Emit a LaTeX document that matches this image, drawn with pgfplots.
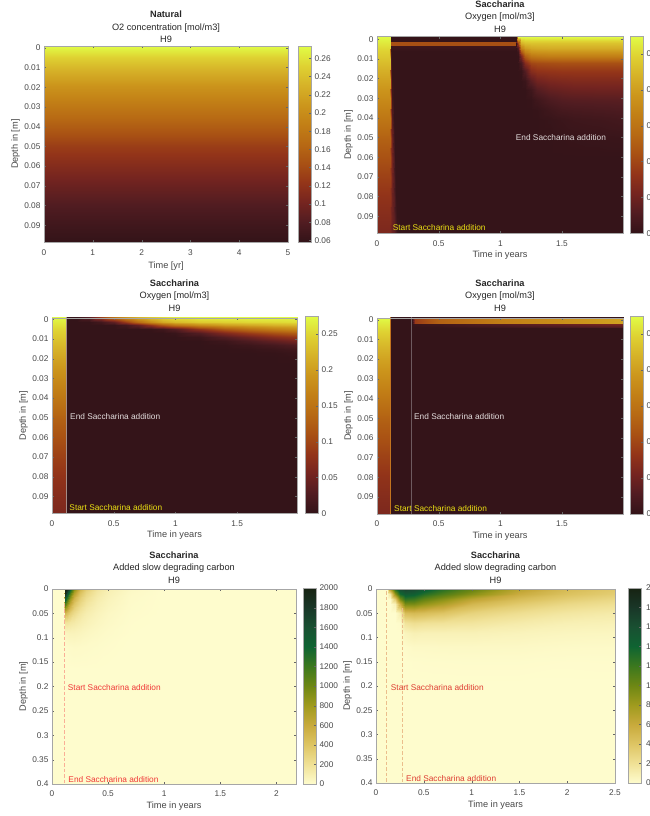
\documentclass[border=0pt]{standalone}
\usepackage{pgfplots}
\pgfplotsset{compat=1.18}
\usepackage{pgfplotstable}
\usepackage{fontspec}
\setmainfont{Liberation Sans}
\definecolor{txt}{gray}{0.28}
\definecolor{ttl}{gray}{0.15}
\definecolor{boxc}{gray}{0.65}
\definecolor{tickc}{gray}{0.4}
\newcommand{\ticksize}{\fontsize{8.3}{10}\selectfont}
\newcommand{\labsize}{\fontsize{9.2}{11}\selectfont}
\pgfkeys{/pgf/number format/assume math mode=true}
\tikzset{note/.style={font=\ticksize,anchor=west,inner sep=0pt}}
\pgfplotsset{
 colormap={solar}{rgb255=(50,19,24) rgb255=(80,28,33) rgb255=(116,36,32) rgb255=(147,52,25) rgb255=(168,80,20) rgb255=(183,105,20) rgb255=(194,127,22) rgb255=(204,150,28) rgb255=(214,178,40) rgb255=(223,210,50) rgb255=(225,253,70)},
 colormap={speedr}{rgb255=(254,252,205) rgb255=(240,225,150) rgb255=(222,197,100) rgb255=(200,170,60) rgb255=(160,155,30) rgb255=(110,135,20) rgb255=(60,120,30) rgb255=(15,100,50) rgb255=(25,80,50) rgb255=(25,55,40) rgb255=(23,35,18)},
 heat/.style={surf,shader=interp,mesh/cols=#1,point meta=explicit},
 panel/.style={scale only axis,y dir=reverse,enlargelimits=false,axis on top,
  tick align=inside,major tick length=2pt,
  axis line style={draw=boxc},tick style={draw=tickc},
  tick label style={font=\ticksize,text=txt},
  xticklabel style={/pgf/number format/fixed,/pgf/number format/precision=2,yshift=-3.5pt},
  yticklabel style={/pgf/number format/fixed,/pgf/number format/precision=2},
  scaled x ticks=false,scaled y ticks=false,
  every axis x label/.style={at={(axis description cs:0.5,0)},anchor=center,yshift=-22pt,font=\labsize,text=txt},
  every axis y label/.style={at={(axis description cs:0,0.5)},anchor=center,xshift=-28.5pt,rotate=90,font=\labsize,text=txt},
  every axis title/.style={at={(axis description cs:0.5,1)},anchor=south,yshift=3pt,align=center,inner sep=0pt,font=\fontsize{9.2}{12.6}\selectfont,text=ttl},
 },
 cbstyle/.style={scale only axis,ytick pos=right,yticklabel pos=right,major tick length=2pt,tick align=inside,
  axis line style={draw=boxc},tick style={draw=tickc},
  tick label style={font=\ticksize,text=txt},
  yticklabel style={/pgf/number format/fixed,/pgf/number format/precision=2,/pgf/number format/1000 sep={}},
  scaled y ticks=false},
}
\pgfplotstableread[row sep=\\]{
0 -.001 .2735\\ .115 -.001 .2735\\
0 .005 .25\\ .115 .005 .25\\
0 .01 .235\\ .115 .01 .235\\
0 .02 .205\\ .115 .02 .205\\
0 .03 .18\\ .115 .03 .18\\
0 .04 .155\\ .115 .04 .155\\
0 .05 .13\\ .115 .05 .13\\
0 .06 .112\\ .115 .06 .112\\
0 .07 .095\\ .115 .07 .095\\
0 .08 .08\\ .115 .08 .08\\
0 .09 .07\\ .115 .09 .07\\
0 .0987 .062\\ .115 .0987 .062\\
}\natstrip
\begin{document}
\begin{tikzpicture}[x=1pt,y=1pt]
\path[use as bounding box,clip] (0,0) rectangle (649,816);
% ---------- panel 1
\begin{axis}[panel,at={(44pt,770pt)},anchor=north west,width=244pt,height=196.3pt,
 xmin=0,xmax=5,ymin=-.0009,ymax=.0987,xtick={0,1,2,3,4,5},ytick={0,.01,.02,.03,.04,.05,.06,.07,.08,.09},
 xlabel={Time [yr]},ylabel={Depth in [m]},xlabel style={yshift=-1.5pt},
 title={\textbf{Natural}\\O2 concentration [mol/m3]\\H9},
 colormap name=solar,point meta min=.058,point meta max=.2735,colorbar,
 colorbar style={cbstyle,at={(1.041,1)},anchor=north west,width=13pt,height=196.3pt,ytick={.06,.08,.1,.12,.14,.16,.18,.2,.22,.24,.26}}]
\addplot[heat=2] table[row sep=\\,meta index=2]{
0 -.001 .2735\\ 5 -.001 .2735\\
0 .005 .25\\ 5 .005 .25\\
0 .01 .235\\ 5 .01 .235\\
0 .02 .205\\ 5 .02 .205\\
0 .03 .18\\ 5 .03 .18\\
0 .04 .155\\ 5 .04 .155\\
0 .05 .13\\ 5 .05 .13\\
0 .06 .112\\ 5 .06 .112\\
0 .07 .095\\ 5 .07 .095\\
0 .08 .08\\ 5 .08 .08\\
0 .09 .068\\ 5 .09 .068\\
0 .0987 .059\\ 5 .0987 .059\\
};
\end{axis}
% ---------- panel 2
\begin{axis}[panel,at={(377pt,779.3pt)},anchor=north west,width=246pt,height=196.6pt,
 xmin=0,xmax=1.995,ymin=-.0013,ymax=.0987,xtick={0,.5,1,1.5},ytick={0,.01,.02,.03,.04,.05,.06,.07,.08,.09},
 xlabel={Time in years},ylabel={Depth in [m]},
 title={\textbf{Saccharina}\\Oxygen [mol/m3]\\H9},title style={yshift=1pt},
 colormap name=solar,point meta min=0,point meta max=.275,colorbar,
 colorbar style={cbstyle,at={(1.0285,1.0036)},anchor=north west,width=13pt,height=197.3pt,ytick={0,.05,.1,.15,.2,.25}}]
\addplot[heat=2] table[meta index=2]{\natstrip};
\addplot[heat=2] table[row sep=\\,meta index=2]{
.11 -.0013 .003\\ 1.995 -.0013 .003\\ .11 .0987 .003\\ 1.995 .0987 .003\\};
% slanted front of the oxygen loss
\addplot[heat=8] table[row sep=\\,meta index=2]{
.105 -.0013 .27\\ .115 -.0013 .003\\ .125 -.0013 .003\\ .135 -.0013 .003\\ .145 -.0013 .003\\ .155 -.0013 .003\\ .165 -.0013 .003\\ .175 -.0013 .003\\
.105 .01 .235\\ .115 .01 .02\\ .125 .01 .003\\ .135 .01 .003\\ .145 .01 .003\\ .155 .01 .003\\ .165 .01 .003\\ .175 .01 .003\\
.105 .02 .205\\ .115 .02 .06\\ .125 .02 .003\\ .135 .02 .003\\ .145 .02 .003\\ .155 .02 .003\\ .165 .02 .003\\ .175 .02 .003\\
.105 .03 .18\\ .115 .03 .09\\ .125 .03 .012\\ .135 .03 .003\\ .145 .03 .003\\ .155 .03 .003\\ .165 .03 .003\\ .175 .03 .003\\
.105 .04 .155\\ .115 .04 .1\\ .125 .04 .03\\ .135 .04 .003\\ .145 .04 .003\\ .155 .04 .003\\ .165 .04 .003\\ .175 .04 .003\\
.105 .05 .13\\ .115 .05 .09\\ .125 .05 .05\\ .135 .05 .012\\ .145 .05 .003\\ .155 .05 .003\\ .165 .05 .003\\ .175 .05 .003\\
.105 .06 .112\\ .115 .06 .085\\ .125 .06 .055\\ .135 .06 .025\\ .145 .06 .003\\ .155 .06 .003\\ .165 .06 .003\\ .175 .06 .003\\
.105 .07 .095\\ .115 .07 .08\\ .125 .07 .055\\ .135 .07 .03\\ .145 .07 .01\\ .155 .07 .003\\ .165 .07 .003\\ .175 .07 .003\\
.105 .08 .08\\ .115 .08 .07\\ .125 .08 .05\\ .135 .08 .035\\ .145 .08 .018\\ .155 .08 .004\\ .165 .08 .003\\ .175 .08 .003\\
.105 .09 .07\\ .115 .09 .06\\ .125 .09 .05\\ .135 .09 .037\\ .145 .09 .025\\ .155 .09 .012\\ .165 .09 .004\\ .175 .09 .003\\
.105 .0987 .062\\ .115 .0987 .055\\ .125 .0987 .047\\ .135 .0987 .04\\ .145 .0987 .03\\ .155 .0987 .02\\ .165 .0987 .01\\ .175 .0987 .003\\
};
% orange strip under the surface
\addplot[heat=2] table[row sep=\\,meta index=2]{
.11 .0012 .003\\ 1.125 .0012 .003\\
.11 .0013 .11\\ 1.125 .0013 .11\\
.11 .0032 .11\\ 1.125 .0032 .11\\
.11 .0034 .012\\ 1.125 .0034 .012\\
.11 .006 .003\\ 1.125 .006 .003\\
};
% recovery after the end of the addition
\addplot[heat=11] table[row sep=\\,meta index=2]{
1.125 -.0013 .003\\ 1.14 -.0013 .27\\ 1.17 -.0013 .273\\ 1.2 -.0013 .273\\ 1.25 -.0013 .273\\ 1.3 -.0013 .273\\ 1.4 -.0013 .273\\ 1.5 -.0013 .273\\ 1.6 -.0013 .273\\ 1.8 -.0013 .273\\ 1.995 -.0013 .273\\
1.125 .002 .003\\ 1.14 .002 .1\\ 1.17 .002 .22\\ 1.2 .002 .232\\ 1.25 .002 .235\\ 1.3 .002 .235\\ 1.4 .002 .235\\ 1.5 .002 .235\\ 1.6 .002 .235\\ 1.8 .002 .235\\ 1.995 .002 .235\\
1.125 .0045 .003\\ 1.14 .0045 .03\\ 1.17 .0045 .17\\ 1.2 .0045 .2\\ 1.25 .0045 .21\\ 1.3 .0045 .213\\ 1.4 .0045 .215\\ 1.5 .0045 .215\\ 1.6 .0045 .215\\ 1.8 .0045 .215\\ 1.995 .0045 .215\\
1.125 .0065 .003\\ 1.14 .0065 .01\\ 1.17 .0065 .11\\ 1.2 .0065 .165\\ 1.25 .0065 .185\\ 1.3 .0065 .188\\ 1.4 .0065 .19\\ 1.5 .0065 .19\\ 1.6 .0065 .19\\ 1.8 .0065 .19\\ 1.995 .0065 .19\\
1.125 .0085 .003\\ 1.14 .0085 .004\\ 1.17 .0085 .06\\ 1.2 .0085 .125\\ 1.25 .0085 .155\\ 1.3 .0085 .16\\ 1.4 .0085 .165\\ 1.5 .0085 .165\\ 1.6 .0085 .165\\ 1.8 .0085 .165\\ 1.995 .0085 .165\\
1.125 .012 .003\\ 1.14 .012 .003\\ 1.17 .012 .02\\ 1.2 .012 .07\\ 1.25 .012 .1\\ 1.3 .012 .105\\ 1.4 .012 .108\\ 1.5 .012 .11\\ 1.6 .012 .11\\ 1.8 .012 .11\\ 1.995 .012 .11\\
1.125 .016 .003\\ 1.14 .016 .003\\ 1.17 .016 .005\\ 1.2 .016 .03\\ 1.25 .016 .07\\ 1.3 .016 .08\\ 1.4 .016 .083\\ 1.5 .016 .085\\ 1.6 .016 .085\\ 1.8 .016 .085\\ 1.995 .016 .085\\
1.125 .021 .003\\ 1.14 .021 .003\\ 1.17 .021 .003\\ 1.2 .021 .008\\ 1.25 .021 .035\\ 1.3 .021 .052\\ 1.4 .021 .06\\ 1.5 .021 .063\\ 1.6 .021 .065\\ 1.8 .021 .065\\ 1.995 .021 .065\\
1.125 .026 .003\\ 1.14 .026 .003\\ 1.17 .026 .003\\ 1.2 .026 .003\\ 1.25 .026 .012\\ 1.3 .026 .03\\ 1.4 .026 .042\\ 1.5 .026 .046\\ 1.6 .026 .049\\ 1.8 .026 .05\\ 1.995 .026 .05\\
1.125 .031 .003\\ 1.14 .031 .003\\ 1.17 .031 .003\\ 1.2 .031 .003\\ 1.25 .031 .004\\ 1.3 .031 .012\\ 1.4 .031 .024\\ 1.5 .031 .03\\ 1.6 .031 .032\\ 1.8 .031 .033\\ 1.995 .031 .034\\
1.125 .036 .003\\ 1.14 .036 .003\\ 1.17 .036 .003\\ 1.2 .036 .003\\ 1.25 .036 .003\\ 1.3 .036 .004\\ 1.4 .036 .012\\ 1.5 .036 .018\\ 1.6 .036 .02\\ 1.8 .036 .022\\ 1.995 .036 .024\\
1.125 .041 .003\\ 1.14 .041 .003\\ 1.17 .041 .003\\ 1.2 .041 .003\\ 1.25 .041 .003\\ 1.3 .041 .003\\ 1.4 .041 .005\\ 1.5 .041 .008\\ 1.6 .041 .011\\ 1.8 .041 .013\\ 1.995 .041 .016\\
1.125 .05 .003\\ 1.14 .05 .003\\ 1.17 .05 .003\\ 1.2 .05 .003\\ 1.25 .05 .003\\ 1.3 .05 .003\\ 1.4 .05 .003\\ 1.5 .05 .004\\ 1.6 .05 .005\\ 1.8 .05 .006\\ 1.995 .05 .007\\
1.125 .06 .003\\ 1.14 .06 .003\\ 1.17 .06 .003\\ 1.2 .06 .003\\ 1.25 .06 .003\\ 1.3 .06 .003\\ 1.4 .06 .003\\ 1.5 .06 .003\\ 1.6 .06 .003\\ 1.8 .06 .003\\ 1.995 .06 .003\\
};
\node[note,text={rgb,255:red,228;green,222;blue,222}] at (axis cs:1.125,.05) {End Saccharina addition};
\node[note,text={rgb,255:red,235;green,225;blue,20}] at (axis cs:.127,.0956) {Start Saccharina addition};
\end{axis}
% ---------- panel 3
\begin{axis}[panel,at={(52pt,498pt)},anchor=north west,width=245pt,height=195.5pt,
 xmin=0,xmax=1.985,ymin=-.0007,ymax=.0987,xtick={0,.5,1,1.5},ytick={0,.01,.02,.03,.04,.05,.06,.07,.08,.09},
 xlabel={Time in years},ylabel={Depth in [m]},
 title={\textbf{Saccharina}\\Oxygen [mol/m3]\\H9},title style={yshift=3.5pt},
 colormap name=solar,point meta min=0,point meta max=.275,colorbar,
 colorbar style={cbstyle,at={(1.0327,1.0102)},anchor=north west,width=13pt,height=197.5pt,ytick={0,.05,.1,.15,.2,.25}}]
\addplot[heat=2] table[meta index=2]{\natstrip};
\addplot[heat=2] table[row sep=\\,meta index=2]{
.115 -.0013 .002\\ 1.995 -.0013 .002\\ .115 .0987 .002\\ 1.995 .0987 .002\\};
\addplot[heat=14] table[row sep=\\,meta index=2]{
.2 -.001 .003\\ .3 -.001 .03\\ .4 -.001 .09\\ .5 -.001 .15\\ .6 -.001 .19\\ .7 -.001 .22\\ .8 -.001 .24\\ .9 -.001 .255\\ 1 -.001 .265\\ 1.2 -.001 .27\\ 1.4 -.001 .272\\ 1.6 -.001 .273\\ 1.8 -.001 .273\\ 1.99 -.001 .273\\
.2 .0015 .002\\ .3 .0015 .003\\ .4 .0015 .015\\ .5 .0015 .04\\ .6 .0015 .09\\ .7 .0015 .14\\ .8 .0015 .18\\ .9 .0015 .21\\ 1 .0015 .225\\ 1.2 .0015 .24\\ 1.4 .0015 .245\\ 1.6 .0015 .25\\ 1.8 .0015 .252\\ 1.99 .0015 .255\\
.2 .003 .002\\ .3 .003 .002\\ .4 .003 .002\\ .5 .003 .003\\ .6 .003 .015\\ .7 .003 .04\\ .8 .003 .08\\ .9 .003 .12\\ 1 .003 .15\\ 1.2 .003 .18\\ 1.4 .003 .2\\ 1.6 .003 .21\\ 1.8 .003 .22\\ 1.99 .003 .225\\
.2 .005 .002\\ .3 .005 .002\\ .4 .005 .002\\ .5 .005 .002\\ .6 .005 .002\\ .7 .005 .002\\ .8 .005 .004\\ .9 .005 .012\\ 1 .005 .03\\ 1.2 .005 .08\\ 1.4 .005 .12\\ 1.6 .005 .145\\ 1.8 .005 .165\\ 1.99 .005 .18\\
.2 .007 .002\\ .3 .007 .002\\ .4 .007 .002\\ .5 .007 .002\\ .6 .007 .002\\ .7 .007 .002\\ .8 .007 .002\\ .9 .007 .002\\ 1 .007 .006\\ 1.2 .007 .03\\ 1.4 .007 .065\\ 1.6 .007 .09\\ 1.8 .007 .11\\ 1.99 .007 .125\\
.2 .009 .002\\ .3 .009 .002\\ .4 .009 .002\\ .5 .009 .002\\ .6 .009 .002\\ .7 .009 .002\\ .8 .009 .002\\ .9 .009 .002\\ 1 .009 .002\\ 1.2 .009 .008\\ 1.4 .009 .03\\ 1.6 .009 .05\\ 1.8 .009 .07\\ 1.99 .009 .085\\
.2 .011 .002\\ .3 .011 .002\\ .4 .011 .002\\ .5 .011 .002\\ .6 .011 .002\\ .7 .011 .002\\ .8 .011 .002\\ .9 .011 .002\\ 1 .011 .002\\ 1.2 .011 .002\\ 1.4 .011 .01\\ 1.6 .011 .025\\ 1.8 .011 .04\\ 1.99 .011 .055\\
.2 .013 .002\\ .3 .013 .002\\ .4 .013 .002\\ .5 .013 .002\\ .6 .013 .002\\ .7 .013 .002\\ .8 .013 .002\\ .9 .013 .002\\ 1 .013 .002\\ 1.2 .013 .002\\ 1.4 .013 .004\\ 1.6 .013 .01\\ 1.8 .013 .018\\ 1.99 .013 .028\\
.2 .015 .002\\ .3 .015 .002\\ .4 .015 .002\\ .5 .015 .002\\ .6 .015 .002\\ .7 .015 .002\\ .8 .015 .002\\ .9 .015 .002\\ 1 .015 .002\\ 1.2 .015 .002\\ 1.4 .015 .002\\ 1.6 .015 .004\\ 1.8 .015 .008\\ 1.99 .015 .014\\
.2 .017 .002\\ .3 .017 .002\\ .4 .017 .002\\ .5 .017 .002\\ .6 .017 .002\\ .7 .017 .002\\ .8 .017 .002\\ .9 .017 .002\\ 1 .017 .002\\ 1.2 .017 .002\\ 1.4 .017 .002\\ 1.6 .017 .002\\ 1.8 .017 .003\\ 1.99 .017 .007\\
.2 .019 .002\\ .3 .019 .002\\ .4 .019 .002\\ .5 .019 .002\\ .6 .019 .002\\ .7 .019 .002\\ .8 .019 .002\\ .9 .019 .002\\ 1 .019 .002\\ 1.2 .019 .002\\ 1.4 .019 .002\\ 1.6 .019 .002\\ 1.8 .019 .002\\ 1.99 .019 .004\\
.2 .022 .002\\ .3 .022 .002\\ .4 .022 .002\\ .5 .022 .002\\ .6 .022 .002\\ .7 .022 .002\\ .8 .022 .002\\ .9 .022 .002\\ 1 .022 .002\\ 1.2 .022 .002\\ 1.4 .022 .002\\ 1.6 .022 .002\\ 1.8 .022 .002\\ 1.99 .022 .002\\
};
\addplot[no marks,line width=.9pt,draw={rgb,255:red,165;green,140;blue,135}] coordinates {(.115,-.0013) (.115,.0987)};
\node[note,text={rgb,255:red,228;green,222;blue,222}] at (axis cs:.146,.0493) {End Saccharina addition};
\node[note,text={rgb,255:red,235;green,225;blue,20}] at (axis cs:.14,.0958) {Start Saccharina addition};
\end{axis}
% ---------- panel 4
\begin{axis}[panel,at={(377pt,498pt)},anchor=north west,width=246pt,height=196pt,
 xmin=0,xmax=1.995,ymin=-.0009,ymax=.0987,xtick={0,.5,1,1.5},ytick={0,.01,.02,.03,.04,.05,.06,.07,.08,.09},
 xlabel={Time in years},ylabel={Depth in [m]},
 title={\textbf{Saccharina}\\Oxygen [mol/m3]\\H9},title style={yshift=3.5pt},
 colormap name=solar,point meta min=0,point meta max=.275,colorbar,
 colorbar style={cbstyle,at={(1.0285,1.0102)},anchor=north west,width=13pt,height=198pt,ytick={0,.05,.1,.15,.2,.25}}]
\addplot[heat=2] table[meta index=2]{\natstrip};
\addplot[heat=2] table[row sep=\\,meta index=2]{
.115 -.0013 .002\\ 1.995 -.0013 .002\\ .115 .0987 .002\\ 1.995 .0987 .002\\};
\addplot[heat=6] table[row sep=\\,meta index=2]{
.285 -.001 .002\\ .31 -.001 .09\\ .5 -.001 .13\\ 1 -.001 .165\\ 1.5 -.001 .185\\ 1.995 -.001 .205\\
.285 .0018 .002\\ .31 .0018 .09\\ .5 .0018 .13\\ 1 .0018 .165\\ 1.5 .0018 .185\\ 1.995 .0018 .205\\
.285 .0021 .002\\ .31 .0021 .006\\ .5 .0021 .012\\ 1 .0021 .03\\ 1.5 .0021 .045\\ 1.995 .0021 .06\\
.285 .0035 .002\\ .31 .0035 .002\\ .5 .0035 .004\\ 1 .0035 .012\\ 1.5 .0035 .02\\ 1.995 .0035 .03\\
.285 .004 .002\\ .31 .004 .002\\ .5 .004 .002\\ 1 .004 .002\\ 1.5 .004 .002\\ 1.995 .004 .002\\
};
\addplot[no marks,line width=1.1pt,draw={rgb,255:red,195;green,115;blue,30}] coordinates {(.113,-.0013) (.113,.0987)};
\addplot[no marks,line width=1.1pt,draw={rgb,255:red,110;green,90;blue,95}] coordinates {(.278,-.0013) (.278,.0987)};
\node[note,text={rgb,255:red,228;green,222;blue,222}] at (axis cs:.30,.0492) {End Saccharina addition};
\node[note,text={rgb,255:red,235;green,225;blue,20}] at (axis cs:.138,.0958) {Start Saccharina addition};
\end{axis}
% ---------- panel 5
\begin{axis}[panel,at={(52pt,227pt)},anchor=north west,width=244pt,height=195pt,
 xmin=0,xmax=2.175,ymin=0,ymax=.4,xtick={0,.5,1,1.5,2},ytick={0,.05,.1,.15,.2,.25,.3,.35,.4},
 xlabel={Time in years},ylabel={Depth in [m]},
 title={\textbf{Saccharina}\\Added slow degrading carbon\\H9},title style={yshift=2.5pt},
 colormap name=speedr,point meta min=0,point meta max=2000,colorbar,
 colorbar style={cbstyle,at={(1.0287,1.0051)},anchor=north west,width=13pt,height=196pt,ytick={0,200,400,600,800,1000,1200,1400,1600,1800,2000}}]
\addplot[heat=2] table[row sep=\\,meta index=2]{
0 0 0\\ 2.175 0 0\\ 0 .4 0\\ 2.175 .4 0\\};
\addplot[heat=11] table[row sep=\\,meta index=2]{
.11 0 0\\ .113 0 2000\\ .13 0 1950\\ .16 0 1500\\ .2 0 950\\ .25 0 550\\ .3 0 350\\ .4 0 180\\ .5 0 100\\ .7 0 30\\ 1 0 0\\
.11 .005 0\\ .113 .005 2000\\ .13 .005 1800\\ .16 .005 1300\\ .2 .005 800\\ .25 .005 470\\ .3 .005 300\\ .4 .005 160\\ .5 .005 90\\ .7 .005 25\\ 1 .005 0\\
.11 .01 0\\ .113 .01 1900\\ .13 .01 1550\\ .16 .01 1100\\ .2 .01 680\\ .25 .01 400\\ .3 .01 260\\ .4 .01 140\\ .5 .01 80\\ .7 .01 20\\ 1 .01 0\\
.11 .02 0\\ .113 .02 1550\\ .13 .02 1200\\ .16 .02 820\\ .2 .02 520\\ .25 .02 320\\ .3 .02 210\\ .4 .02 115\\ .5 .02 65\\ .7 .02 15\\ 1 .02 0\\
.11 .03 0\\ .113 .03 1150\\ .13 .03 900\\ .16 .03 620\\ .2 .03 400\\ .25 .03 260\\ .3 .03 170\\ .4 .03 95\\ .5 .03 55\\ .7 .03 12\\ 1 .03 0\\
.11 .04 0\\ .113 .04 800\\ .13 .04 650\\ .16 .04 460\\ .2 .04 310\\ .25 .04 200\\ .3 .04 135\\ .4 .04 80\\ .5 .04 45\\ .7 .04 10\\ 1 .04 0\\
.11 .05 0\\ .113 .05 500\\ .13 .05 430\\ .16 .05 330\\ .2 .05 240\\ .25 .05 160\\ .3 .05 110\\ .4 .05 65\\ .5 .05 35\\ .7 .05 8\\ 1 .05 0\\
.11 .07 0\\ .113 .07 170\\ .13 .07 170\\ .16 .07 150\\ .2 .07 130\\ .25 .07 100\\ .3 .07 75\\ .4 .07 45\\ .5 .07 25\\ .7 .07 4\\ 1 .07 0\\
.11 .09 0\\ .113 .09 50\\ .13 .09 55\\ .16 .09 65\\ .2 .09 65\\ .25 .09 55\\ .3 .09 42\\ .4 .09 26\\ .5 .09 14\\ .7 .09 2\\ 1 .09 0\\
.11 .12 0\\ .113 .12 8\\ .13 .12 10\\ .16 .12 16\\ .2 .12 20\\ .25 .12 18\\ .3 .12 15\\ .4 .12 10\\ .5 .12 5\\ .7 .12 0\\ 1 .12 0\\
.11 .16 0\\ .113 .16 0\\ .13 .16 0\\ .16 .16 2\\ .2 .16 3\\ .25 .16 3\\ .3 .16 3\\ .4 .16 2\\ .5 .16 1\\ .7 .16 0\\ 1 .16 0\\
};
\addplot[no marks,line width=1.6pt,dash pattern=on 3.5pt off 2pt,draw={rgb,255:red,250;green,175;blue,150}] coordinates {(.11,0.03) (.11,.4)};
\node[note,text={rgb,255:red,240;green,55;blue,55}] at (axis cs:.14,.2025) {Start Saccharina addition};
\node[note,text={rgb,255:red,240;green,55;blue,55}] at (axis cs:.145,.39) {End Saccharina addition};
\end{axis}
% ---------- panel 6
\begin{axis}[panel,at={(376pt,227pt)},anchor=north west,width=239pt,height=194pt,
 xmin=0,xmax=2.5,ymin=0,ymax=.4,xtick={0,.5,1,1.5,2,2.5},ytick={0,.05,.1,.15,.2,.25,.3,.35,.4},
 xlabel={Time in years},ylabel={Depth in [m]},
 title={\textbf{Saccharina}\\Added slow degrading carbon\\H9},title style={yshift=2.5pt},
 colormap name=speedr,point meta min=0,point meta max=2000,colorbar,
 colorbar style={cbstyle,at={(1.0544,1.0052)},anchor=north west,width=13pt,height=195pt,ytick={0,200,400,600,800,1000,1200,1400,1600,1800,2000},yticklabel style={xshift=1.5pt}}]
\addplot[heat=2] table[row sep=\\,meta index=2]{
0 0 0\\ 2.5 0 0\\ 0 .4 0\\ 2.5 .4 0\\};
\addplot[heat=12] table[row sep=\\,meta index=2]{
.11 0 0\\ .15 0 700\\ .2 0 1300\\ .25 0 1650\\ .3 0 1700\\ .4 0 1650\\ .5 0 1500\\ .7 0 1300\\ 1 0 1050\\ 1.5 0 680\\ 2 0 480\\ 2.5 0 380\\
.11 .01 0\\ .15 .01 150\\ .2 .01 850\\ .25 .01 1350\\ .3 .01 1500\\ .4 .01 1450\\ .5 .01 1300\\ .7 .01 1120\\ 1 .01 900\\ 1.5 .01 580\\ 2 .01 420\\ 2.5 .01 340\\
.11 .02 0\\ .15 .02 0\\ .2 .02 350\\ .25 .02 950\\ .3 .02 1250\\ .4 .02 1200\\ .5 .02 1050\\ .7 .02 900\\ 1 .02 660\\ 1.5 .02 460\\ 2 .02 340\\ 2.5 .02 270\\
.11 .03 0\\ .15 .03 0\\ .2 .03 80\\ .25 .03 550\\ .3 .03 950\\ .4 .03 950\\ .5 .03 850\\ .7 .03 720\\ 1 .03 500\\ 1.5 .03 360\\ 2 .03 260\\ 2.5 .03 210\\
.11 .05 0\\ .15 .05 0\\ .2 .05 0\\ .25 .05 100\\ .3 .05 450\\ .4 .05 480\\ .5 .05 450\\ .7 .05 400\\ 1 .05 300\\ 1.5 .05 220\\ 2 .05 160\\ 2.5 .05 130\\
.11 .07 0\\ .15 .07 0\\ .2 .07 0\\ .25 .07 10\\ .3 .07 180\\ .4 .07 220\\ .5 .07 200\\ .7 .07 190\\ 1 .07 170\\ 1.5 .07 125\\ 2 .07 90\\ 2.5 .07 80\\
.11 .09 0\\ .15 .09 0\\ .2 .09 0\\ .25 .09 0\\ .3 .09 60\\ .4 .09 90\\ .5 .09 80\\ .7 .09 80\\ 1 .09 80\\ 1.5 .09 65\\ 2 .09 50\\ 2.5 .09 45\\
.11 .12 0\\ .15 .12 0\\ .2 .12 0\\ .25 .12 0\\ .3 .12 10\\ .4 .12 25\\ .5 .12 25\\ .7 .12 28\\ 1 .12 30\\ 1.5 .12 28\\ 2 .12 20\\ 2.5 .12 18\\
.11 .15 0\\ .15 .15 0\\ .2 .15 0\\ .25 .15 0\\ .3 .15 0\\ .4 .15 5\\ .5 .15 6\\ .7 .15 7\\ 1 .15 8\\ 1.5 .15 8\\ 2 .15 5\\ 2.5 .15 6\\
.11 .2 0\\ .15 .2 0\\ .2 .2 0\\ .25 .2 0\\ .3 .2 0\\ .4 .2 0\\ .5 .2 0\\ .7 .2 0\\ 1 .2 0\\ 1.5 .2 0\\ 2 .2 0\\ 2.5 .2 0\\
};
\addplot[no marks,line width=.8pt,dash pattern=on 3.5pt off 2pt,draw={rgb,255:red,235;green,190;blue,140}] coordinates {(.11,0.005) (.11,.4)};
\addplot[no marks,line width=.8pt,dash pattern=on 3.5pt off 2pt,draw={rgb,255:red,235;green,190;blue,140}] coordinates {(.28,.04) (.28,.4)};
\node[note,text={rgb,255:red,222;green,60;blue,50}] at (axis cs:.154,.2025) {Start Saccharina addition};
\node[note,text={rgb,255:red,222;green,60;blue,50}] at (axis cs:.314,.39) {End Saccharina addition};
\end{axis}
\end{tikzpicture}
\end{document}
